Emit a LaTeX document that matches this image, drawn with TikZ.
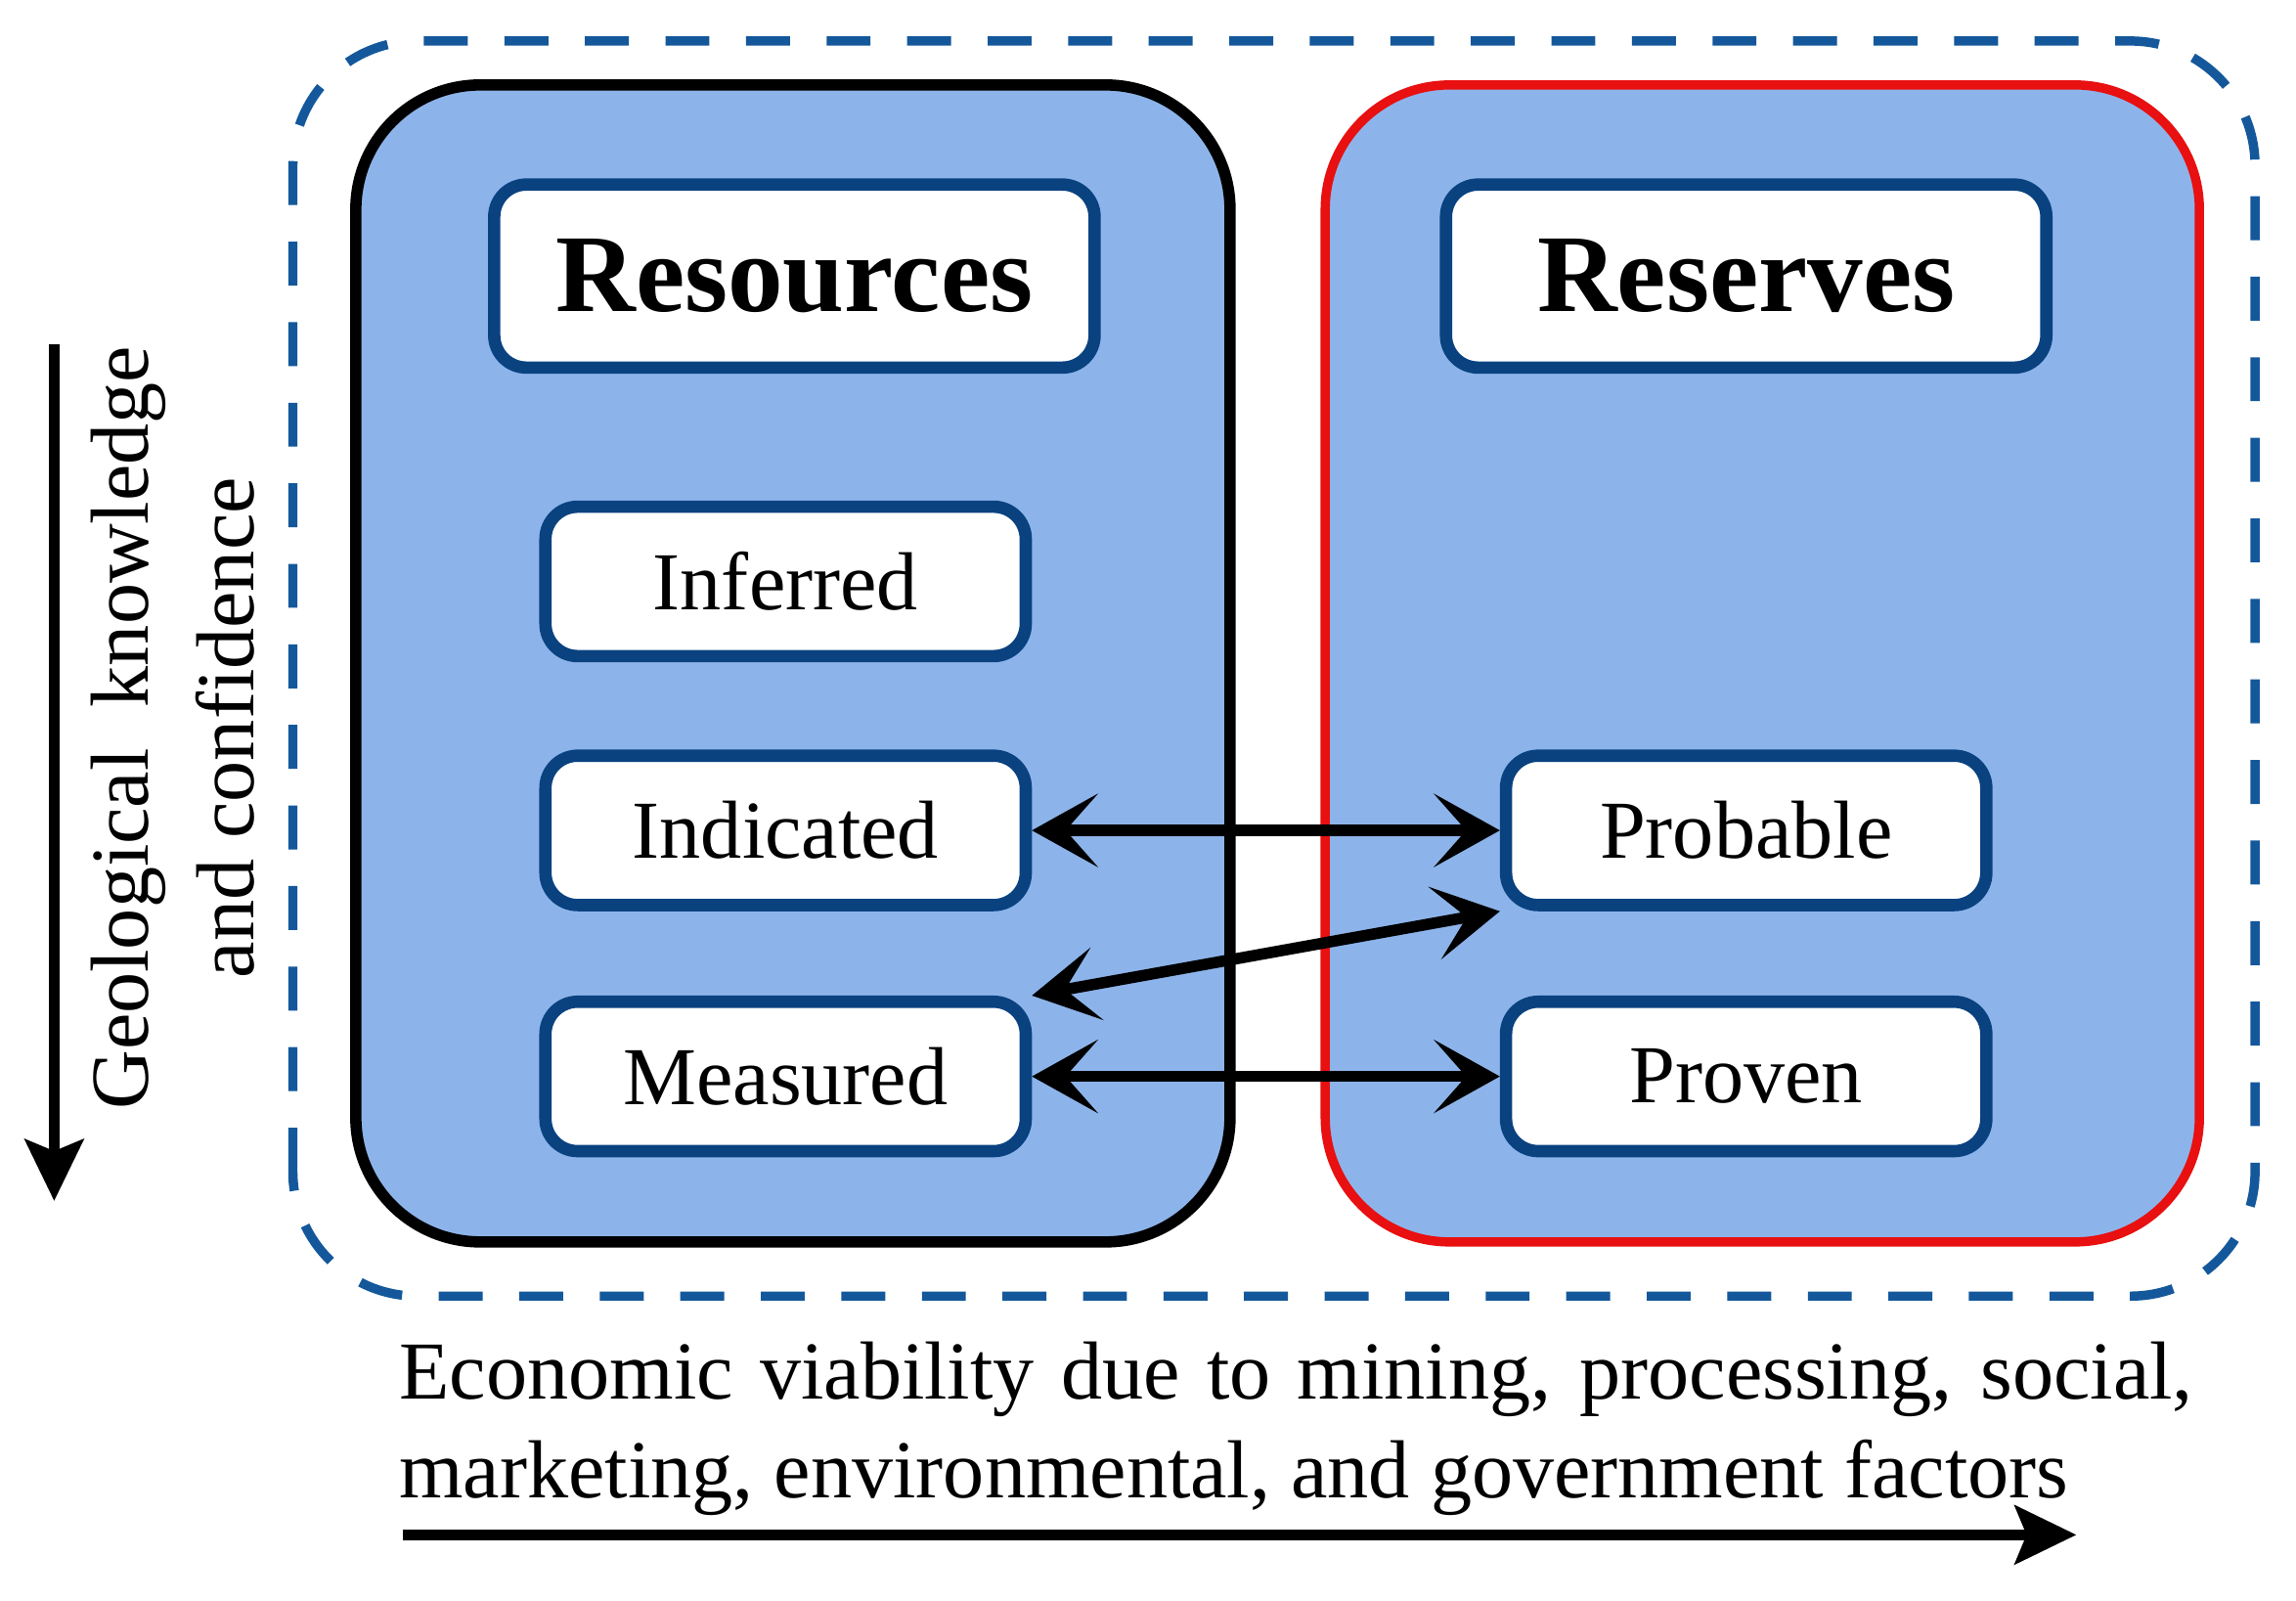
\documentclass[tikz,border=0pt]{standalone}
\usepackage{fontspec}
\setmainfont{Liberation Serif}
\usetikzlibrary{arrows.meta}

\definecolor{fillblue}{RGB}{141,180,234}
\definecolor{edgeblue}{RGB}{10,66,128}
\definecolor{dashblue}{RGB}{20,88,155}
\definecolor{edgered}{RGB}{232,16,16}

\begin{document}
\begin{tikzpicture}[
        classbox/.style={draw=edgeblue, line width=2.4pt, fill=white, rounded corners=0.22cm,
            minimum width=3.28cm, minimum height=1.02cm, inner sep=0pt,
            font=\fontsize{16}{19}\selectfont},
        headbox/.style={classbox, minimum width=4.1cm, minimum height=1.25cm,
            font=\fontsize{21.5}{25}\selectfont\bfseries},
        link/.style={{Stealth[length=0.45cm,width=0.5cm,inset=0.22cm]}-{Stealth[length=0.45cm,width=0.5cm,inset=0.22cm]},
            line width=2.2pt},
        axis/.style={-{Stealth[length=0.42cm,width=0.4cm,inset=0.08cm]}, line width=2pt}
    ]
        \useasboundingbox (0,0) rectangle (15.68,10.93);

        % Outer dashed frame and the two groups
        \draw[dashblue, line width=1.8pt, dash pattern=on 0.3cm off 0.25cm, rounded corners=0.85cm] (2.00,2.08) rectangle (15.40,10.65);
        \draw[fill=fillblue, line width=2.2pt, rounded corners=0.85cm] (2.43,2.45) rectangle (8.40,10.35); % Resources
        \draw[fill=fillblue, draw=edgered, line width=1.8pt, rounded corners=0.85cm] (9.05,2.45) rectangle (15.02,10.35); % Reserves

        % Headers
        \node[headbox] (resources) at (5.425,9.045) {Resources};
        \node[headbox] (reserves) at (11.925,9.045) {Reserves};

        % Resource classes
        \node[classbox] (inferred) at (5.365,6.96) {Inferred};
        \node[classbox] (indicated) at (5.365,5.26) {Indicated};
        \node[classbox] (measured) at (5.365,3.58) {Measured};

        % Reserve classes
        \node[classbox] (probable) at (11.925,5.26) {Probable};
        \node[classbox] (proven) at (11.925,3.58) {Proven};

        % Conversions
        \draw[link] (indicated.east) -- (probable.west);
        \draw[link] (measured.north east) -- (probable.south west);
        \draw[link] (measured.east) -- (proven.west);

        % Geological axis
        \coordinate (geotop) at (0.37,8.58);
        \coordinate (geobot) at (0.37,2.73);
        \draw[axis] (geotop) -- (geobot);
        \node[rotate=90, align=center, font=\fontsize{16}{20.5}\selectfont] (geology) at (1.18,5.96) {Geological\ \ knowledge\\and confidence};

        % Economic axis
        \node[anchor=base west, text width=12.25cm, align=justify, inner sep=0pt, font=\fontsize{16}{19.3}\selectfont] (economy) at (2.72,1.38)
            {Economic viability due to mining, processing, social, marketing,\ environmental,\ and government\ factors};
        \coordinate (ecoleft) at (2.75,0.45);
        \coordinate (ecoright) at (14.18,0.45);
        \draw[axis] (ecoleft) -- (ecoright);
    \end{tikzpicture}
\end{document}
